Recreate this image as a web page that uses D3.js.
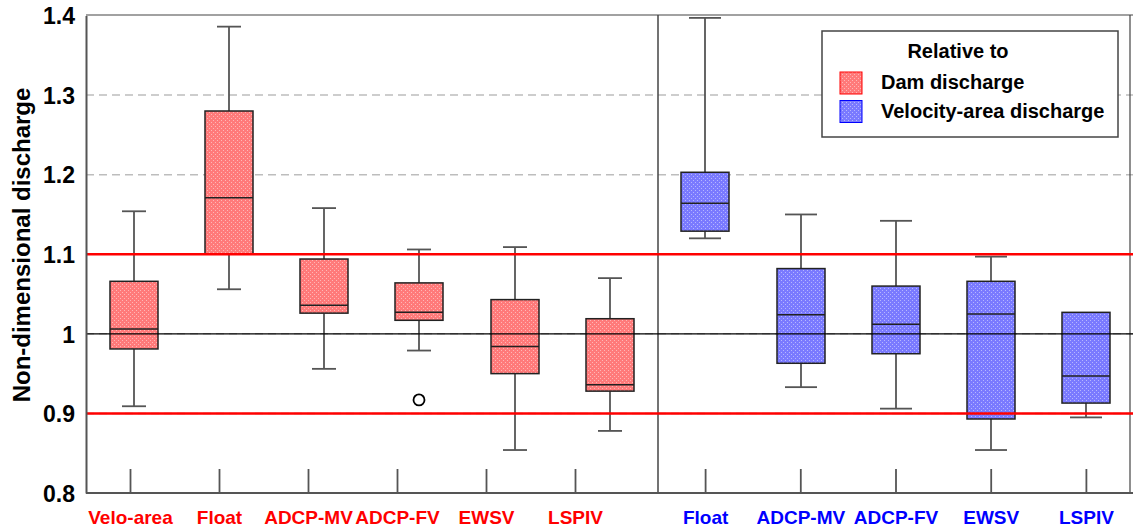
<!DOCTYPE html>
<html>
<head>
<meta charset="utf-8">
<script src="https://cdn.jsdelivr.net/npm/d3@7"></script>
<style>
  html, body { margin: 0; padding: 0; background: #fff; }
  svg { display: block; font-family: "Liberation Sans", Arial, sans-serif; }
</style>
</head>
<body>
<svg id="chart" width="1133" height="529"></svg>
<script>
// Methods whose discharge is compared with the dam discharge (left panel)
const damCategories = ["Velo-area", "Float", "ADCP-MV", "ADCP-FV", "EWSV", "LSPIV"];
const damMin    = [0.909, 1.056, 0.956, 0.979, 0.854, 0.878];
const damQ1     = [0.981, 1.100, 1.026, 1.017, 0.950, 0.928];
const damMedian = [1.006, 1.171, 1.036, 1.027, 0.984, 0.936];
const damQ3     = [1.066, 1.280, 1.094, 1.064, 1.043, 1.019];
const damMax    = [1.154, 1.386, 1.158, 1.106, 1.109, 1.070];
const damOutliers = [[], [], [], [0.917], [], []];

// Methods compared with the velocity-area discharge (right panel)
const veloCategories = ["Float", "ADCP-MV", "ADCP-FV", "EWSV", "LSPIV"];
const veloMin    = [1.120, 0.933, 0.906, 0.854, 0.895];
const veloQ1     = [1.129, 0.963, 0.975, 0.893, 0.913];
const veloMedian = [1.164, 1.024, 1.012, 1.025, 0.947];
const veloQ3     = [1.203, 1.082, 1.060, 1.066, 1.027];
const veloMax    = [1.397, 1.150, 1.142, 1.097, 1.027];
const veloOutliers = [[], [], [], [], []];

const yTicks = [0.8, 0.9, 1.0, 1.1, 1.2, 1.3, 1.4];
const yTickLabels = ["0.8", "0.9", "1", "1.1", "1.2", "1.3", "1.4"];
const gridValues = [0.9, 1.0, 1.1, 1.2, 1.3];
const limitValues = [0.9, 1.1];
const unityValue = 1.0;

const legendTitle = "Relative to";
const legendLabels = ["Dam discharge", "Velocity-area discharge"];
const yTitle = "Non-dimensional discharge";

const RED = "#ff0000", BLUE = "#0000ff";
const RED_FILL = "#ff7a7a", BLUE_FILL = "#7a7aff";

const svg = d3.select("#chart");
const plotLeft = 86, plotRight = 1133, plotTop = 15, plotBottom = 493, divider = 658;

const y = d3.scaleLinear().domain([0.8, 1.4]).range([plotBottom, 15.5]);

// one band per box across both panels
const boxKeys = damCategories.map((c, i) => "d" + i).concat(veloCategories.map((c, i) => "v" + i));
const xBox = d3.scaleBand().domain(boxKeys).range([plotLeft, 1134]);
// label axes of each panel
const xDam = d3.scaleBand().domain(damCategories).range([plotLeft, 620]);
const xVelo = d3.scaleBand().domain(veloCategories).range([divider, 1134]);

// light dot texture laid over the solid box fill
const defs = svg.append("defs");
const dots = defs.append("pattern").attr("id", "dots").attr("patternUnits", "userSpaceOnUse")
  .attr("width", 4).attr("height", 4);
dots.append("rect").attr("x", 0).attr("y", 0).attr("width", 1).attr("height", 1)
  .attr("fill", "#fff").attr("fill-opacity", 0.45);
dots.append("rect").attr("x", 2).attr("y", 2).attr("width", 1).attr("height", 1)
  .attr("fill", "#fff").attr("fill-opacity", 0.45);

// dashed grid
svg.append("g").selectAll("line").data(gridValues).join("line")
  .attr("x1", plotLeft).attr("x2", plotRight)
  .attr("y1", d => y(d)).attr("y2", d => y(d))
  .attr("stroke", "#bdbdbd").attr("stroke-width", 1.5).attr("stroke-dasharray", "8,5");

// frame
svg.append("line").attr("x1", plotLeft).attr("x2", plotRight).attr("y1", plotTop).attr("y2", plotTop)
  .attr("stroke", "#444").attr("stroke-width", 1.2);
svg.append("line").attr("x1", divider).attr("x2", divider).attr("y1", plotTop).attr("y2", plotBottom)
  .attr("stroke", "#444").attr("stroke-width", 1.5);
svg.append("line").attr("x1", 1130).attr("x2", 1130).attr("y1", plotTop).attr("y2", plotBottom)
  .attr("stroke", "#444").attr("stroke-width", 1.2);

// boxes
function drawBoxes(prefix, mins, q1s, meds, q3s, maxs, outs, fill, capW) {
  const data = mins.map((m, i) => ({key: prefix + i, min: m, q1: q1s[i], med: meds[i], q3: q3s[i], max: maxs[i], out: outs[i]}));
  const bw = 48;
  const g = svg.append("g").selectAll("g").data(data).join("g")
    .attr("transform", d => `translate(${Math.round(xBox(d.key) + xBox.bandwidth() / 2)},0)`);
  // whiskers
  g.append("line").attr("x1", 0).attr("x2", 0)
    .attr("y1", d => y(d.max)).attr("y2", d => y(d.q3))
    .attr("stroke", "#555").attr("stroke-width", 1.8);
  g.append("line").attr("x1", 0).attr("x2", 0)
    .attr("y1", d => y(d.q1)).attr("y2", d => y(d.min))
    .attr("stroke", "#555").attr("stroke-width", 1.8);
  g.filter(d => d.max > d.q3).append("line").attr("x1", -capW / 2).attr("x2", capW / 2)
    .attr("y1", d => y(d.max)).attr("y2", d => y(d.max))
    .attr("stroke", "#555").attr("stroke-width", 1.8);
  g.filter(d => d.min < d.q1).append("line").attr("x1", -capW / 2).attr("x2", capW / 2)
    .attr("y1", d => y(d.min)).attr("y2", d => y(d.min))
    .attr("stroke", "#555").attr("stroke-width", 1.8);
  // box
  g.append("rect").attr("x", -bw / 2).attr("width", bw)
    .attr("y", d => y(d.q3)).attr("height", d => y(d.q1) - y(d.q3))
    .attr("fill", fill);
  g.append("rect").attr("x", -bw / 2).attr("width", bw)
    .attr("y", d => y(d.q3)).attr("height", d => y(d.q1) - y(d.q3))
    .attr("fill", "url(#dots)").attr("stroke", "#222").attr("stroke-width", 1.5);
  g.append("line").attr("x1", -bw / 2).attr("x2", bw / 2)
    .attr("y1", d => y(d.med)).attr("y2", d => y(d.med))
    .attr("stroke", "#222").attr("stroke-width", 1.5);
  // outliers
  g.selectAll("circle").data(d => d.out).join("circle")
    .attr("cx", 0).attr("cy", v => y(v)).attr("r", 5.5)
    .attr("fill", "#fff").attr("stroke", "#000").attr("stroke-width", 1.8);
}
drawBoxes("d", damMin, damQ1, damMedian, damQ3, damMax, damOutliers, RED_FILL, 24);
drawBoxes("v", veloMin, veloQ1, veloMedian, veloQ3, veloMax, veloOutliers, BLUE_FILL, 32);

// reference lines
svg.append("g").selectAll("line").data(limitValues).join("line")
  .attr("x1", plotLeft).attr("x2", plotRight)
  .attr("y1", d => y(d)).attr("y2", d => y(d))
  .attr("stroke", RED).attr("stroke-width", 2.5);
svg.append("line").attr("x1", plotLeft).attr("x2", plotRight)
  .attr("y1", y(unityValue)).attr("y2", y(unityValue))
  .attr("stroke", "#000").attr("stroke-width", 1.2);

// y axis
const yAxis = svg.append("g").attr("transform", `translate(${plotLeft},0)`)
  .call(d3.axisLeft(y).tickValues(yTicks).tickFormat((d, i) => yTickLabels[i]).tickSize(0).tickPadding(11));
yAxis.select(".domain").attr("stroke", "#555").attr("stroke-width", 2);
yAxis.selectAll("text").attr("font-size", 23).attr("font-weight", "bold").attr("fill", "#000")
  .attr("dy", "0.36em");

// bottom axes of both panels
function bottomAxis(scale, color) {
  const a = svg.append("g").attr("transform", `translate(0,${plotBottom})`)
    .call(d3.axisBottom(scale).tickSize(-24).tickSizeOuter(0).tickPadding(0));
  a.select(".domain").remove();
  a.selectAll(".tick line").attr("stroke", "#555").attr("stroke-width", 1.8);
  a.selectAll("text").attr("font-size", 19).attr("font-weight", "bold").attr("fill", color)
    .attr("y", 30.5).attr("dy", 0);
}
bottomAxis(xDam, RED);
bottomAxis(xVelo, BLUE);
svg.append("line").attr("x1", plotLeft).attr("x2", plotRight).attr("y1", plotBottom).attr("y2", plotBottom)
  .attr("stroke", "#555").attr("stroke-width", 2);

// y title
svg.append("text").attr("transform", "translate(30,245) rotate(-90)")
  .attr("text-anchor", "middle").attr("font-size", 24).attr("font-weight", "bold").text(yTitle);

// legend
const lg = svg.append("g");
lg.append("rect").attr("x", 822).attr("y", 31).attr("width", 296).attr("height", 106)
  .attr("fill", "#fff").attr("stroke", "#444").attr("stroke-width", 1.5);
lg.append("text").attr("x", 958).attr("y", 58).attr("text-anchor", "middle")
  .attr("font-size", 20).attr("font-weight", "bold").text(legendTitle);
const items = [{label: legendLabels[0], fill: RED_FILL, c: RED}, {label: legendLabels[1], fill: BLUE_FILL, c: BLUE}];
items.forEach((it, i) => {
  const yy = 72 + i * 28.5;
  lg.append("rect").attr("x", 840).attr("y", yy).attr("width", 22).attr("height", 22)
    .attr("fill", it.fill);
  lg.append("rect").attr("x", 840).attr("y", yy).attr("width", 22).attr("height", 22)
    .attr("fill", "url(#dots)").attr("stroke", it.c).attr("stroke-width", 1);
  lg.append("text").attr("x", 881).attr("y", yy + 17).attr("font-size", 20).attr("font-weight", "bold")
    .text(it.label);
});
</script>
</body>
</html>
